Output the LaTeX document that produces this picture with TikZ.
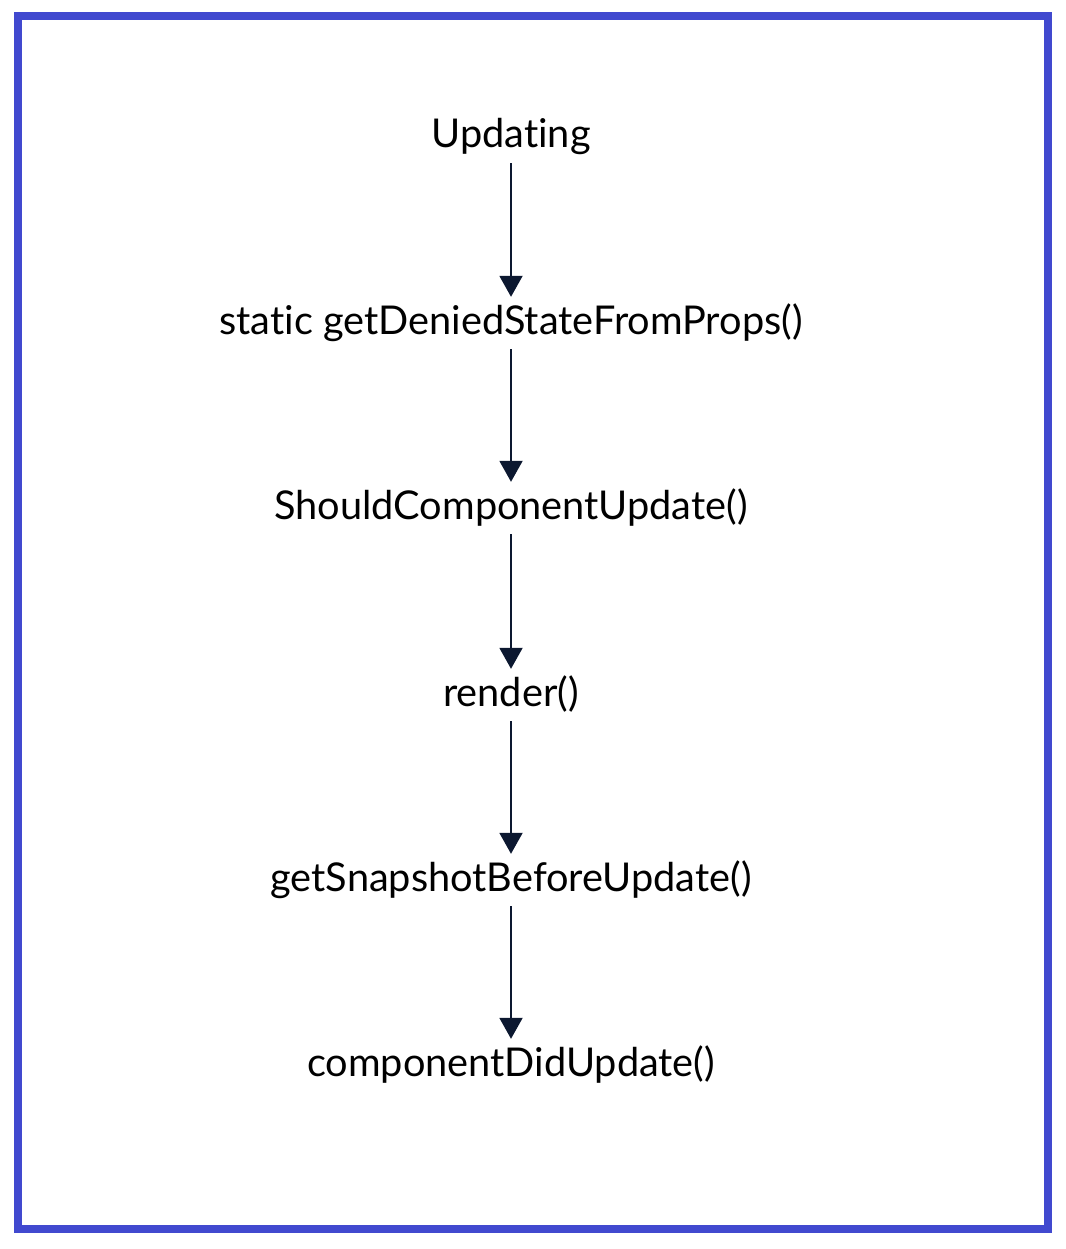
\documentclass[tikz,border=0pt]{standalone}
\usepackage{fontspec}
\setmainfont{Lato}[Ligatures=NoCommon]
\usetikzlibrary{arrows.meta, positioning}
\definecolor{frameblue}{RGB}{65,73,207}
\definecolor{navy}{RGB}{12,24,48}

\begin{document}
\begin{tikzpicture}[x=1pt, y=-1pt,
    method/.style={font=\fontsize{39.7}{44}\selectfont, inner sep=0pt, anchor=base,
      text height=29pt, text depth=0pt},
    flow/.style={-{Triangle[length=21pt, width=23pt]}, navy, line width=2pt,
      shorten <=15pt, shorten >=8pt}]
  \useasboundingbox (0,0) rectangle (1065,1249);
  \draw[frameblue, line width=8pt] (18,16) rectangle (1048,1229);

  % lifecycle methods, top to bottom
  \node[method] (updating) at (511,148) {Updating};
  \node[method] (derived)  at (511,334) {static getDeniedStateFromProps()};
  \node[method] (should)   at (511,519) {ShouldComponentUpdate()};
  \node[method] (render)   at (511,706) {render()};
  \node[method] (snapshot) at (511,891) {getSnapshotBeforeUpdate()};
  \node[method] (didupd)   at (511,1076) {componentDidUpdate()};

  % arrows
  \draw[flow] (updating.south) -- (derived.north);
  \draw[flow] (derived.south)  -- (should.north);
  \draw[flow] (should.south)   -- (render.north);
  \draw[flow] (render.south)   -- (snapshot.north);
  \draw[flow] (snapshot.south) -- (didupd.north);
\end{tikzpicture}
\end{document}
